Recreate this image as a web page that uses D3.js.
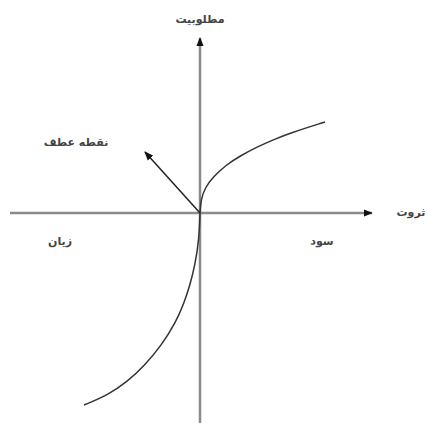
<!DOCTYPE html>
<html>
<head>
<meta charset="utf-8">
<script src="https://cdn.jsdelivr.net/npm/d3@7"></script>
<style>
body { margin: 0; background: #fff; }
text { font-family: "DejaVu Sans", sans-serif; font-size: 11px; font-weight: bold; fill: #444; }
</style>
</head>
<body>
<div id="chart"></div>
<script>
// utility curve, wealth on x, utility on y (origin = 0,0)
var gainCurve = [[0, 0], [0.1, 1.4], [0.5, 2.5], [1.3, 3.6], [2.6, 4.8], [4, 5.7], [5.7, 6.6], [7.5, 7.4], [9, 8], [12.5, 9.1]];
var lossCurve = [[0, 0], [-0.1, -2.7], [-0.5, -5.2], [-1.0, -7.2], [-1.6, -9.0], [-2.4, -10.9],
                 [-3.9, -13.3], [-5.6, -15.3], [-7.2, -16.8], [-9.2, -18.2], [-11.6, -19.2]];
var inflectionArrow = [[0, 0], [-5.5, 6.1]];
var xAxisExtent = [-19, 17.2];
var yAxisExtent = [-21, 17.5];
var labels = {y: "مطلوبیت", x: "ثروت", gain: "سود", loss: "زیان", inflection: "نقطه عطف"};

var width = 427, height = 423;

var svg = d3.select("#chart")
  .append("svg")
  .attr("width", width)
  .attr("height", height);

var x = d3.scaleLinear().domain([-20, 22.7]).range([0, 427]);
var y = d3.scaleLinear().domain([-21, 21.3]).range([423, 0]);

// arrow heads
svg.append("defs").append("marker")
  .attr("id", "head")
  .attr("viewBox", "0 0 10 10")
  .attr("refX", 9).attr("refY", 5)
  .attr("markerWidth", 9).attr("markerHeight", 9)
  .attr("markerUnits", "userSpaceOnUse")
  .attr("orient", "auto")
  .append("path")
  .attr("d", "M0,1 L10,5 L0,9 Z")
  .attr("fill", "#111");

// axes
svg.append("line")
  .attr("x1", x(xAxisExtent[0])).attr("x2", x(xAxisExtent[1]))
  .attr("y1", y(0)).attr("y2", y(0))
  .attr("stroke", "#8a8a8a").attr("stroke-width", 2.5)
  .attr("marker-end", "url(#head)");

svg.append("line")
  .attr("x1", x(0)).attr("x2", x(0))
  .attr("y1", y(yAxisExtent[0])).attr("y2", y(yAxisExtent[1]))
  .attr("stroke", "#8a8a8a").attr("stroke-width", 2.5)
  .attr("marker-end", "url(#head)");

var line = d3.line()
  .x(function(d) { return x(d[0]); })
  .y(function(d) { return y(d[1]); })
  .curve(d3.curveBasis);

svg.append("path")
  .datum(gainCurve)
  .attr("fill", "none")
  .attr("stroke", "#333")
  .attr("stroke-width", 1.5)
  .attr("d", line);

svg.append("path")
  .datum(lossCurve)
  .attr("fill", "none")
  .attr("stroke", "#333")
  .attr("stroke-width", 1.5)
  .attr("d", line);

svg.append("line")
  .attr("x1", x(inflectionArrow[0][0])).attr("y1", y(inflectionArrow[0][1]))
  .attr("x2", x(inflectionArrow[1][0])).attr("y2", y(inflectionArrow[1][1]))
  .attr("stroke", "#222").attr("stroke-width", 1.5)
  .attr("marker-end", "url(#head)");

// labels
function label(txt, px, py) {
  svg.append("text")
    .attr("x", px).attr("y", py)
    .attr("direction", "rtl")
    .attr("text-anchor", "middle")
    .attr("dominant-baseline", "middle")
    .text(txt);
}
label(labels.y, x(0), 20);
label(labels.inflection, 76, 143);
label(labels.x, 411, y(0));
label(labels.gain, 322, 242);
label(labels.loss, 60, 242);
</script>
</body>
</html>
